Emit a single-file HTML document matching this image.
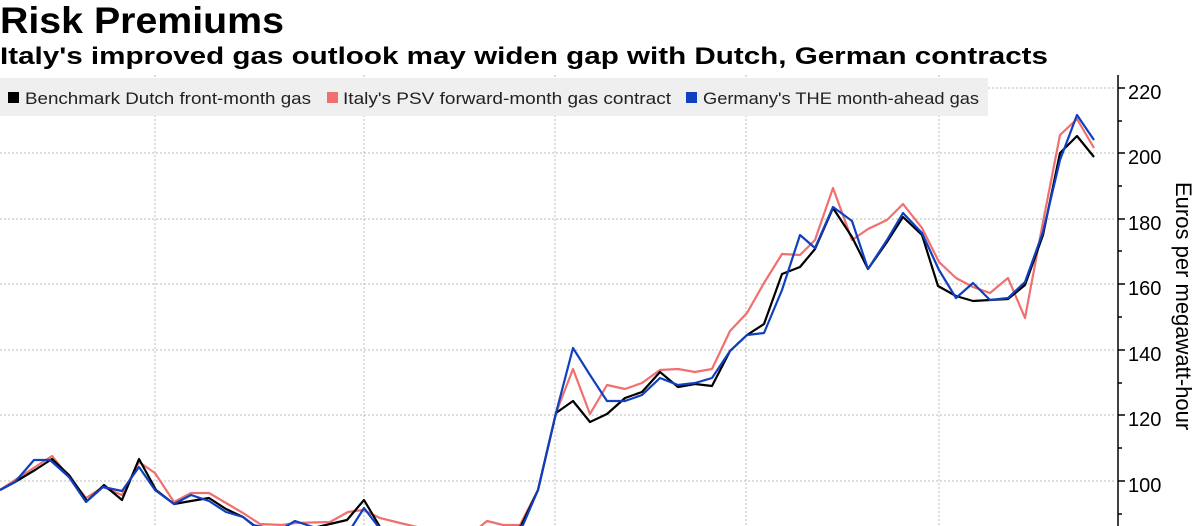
<!DOCTYPE html>
<html><head><meta charset="utf-8"><style>
html,body{margin:0;padding:0;background:#fff;width:1200px;height:526px;overflow:hidden}
svg{display:block}
text{font-family:"Liberation Sans",sans-serif}
</style></head><body>
<svg width="1200" height="526" viewBox="0 0 1200 526" xmlns="http://www.w3.org/2000/svg">
<text x="0" y="33" font-size="37" font-weight="bold" fill="#000" textLength="284" lengthAdjust="spacingAndGlyphs">Risk Premiums</text>
<text x="0" y="64" font-size="24" font-weight="bold" fill="#000" textLength="1048" lengthAdjust="spacingAndGlyphs">Italy's improved gas outlook may widen gap with Dutch, German contracts</text>
<g stroke="#bbb" stroke-width="1" stroke-dasharray="2,2">
<line x1="0" y1="88" x2="1115" y2="88"/><line x1="0" y1="153" x2="1115" y2="153"/><line x1="0" y1="219" x2="1115" y2="219"/><line x1="0" y1="284" x2="1115" y2="284"/><line x1="0" y1="350" x2="1115" y2="350"/><line x1="0" y1="415" x2="1115" y2="415"/><line x1="0" y1="481" x2="1115" y2="481"/>
<line x1="155" y1="75" x2="155" y2="526"/><line x1="364" y1="75" x2="364" y2="526"/><line x1="555" y1="75" x2="555" y2="526"/><line x1="746" y1="75" x2="746" y2="526"/><line x1="939" y1="75" x2="939" y2="526"/>
</g>
<rect x="0" y="78" width="988" height="38" fill="#efefef"/>
<rect x="8" y="92" width="11" height="11" fill="#000"/>
<text x="25" y="104" font-size="17" fill="#222" textLength="286" lengthAdjust="spacingAndGlyphs">Benchmark Dutch front-month gas</text>
<rect x="327" y="92" width="11" height="11" fill="#f07070"/>
<text x="343" y="104" font-size="17" fill="#222" textLength="328" lengthAdjust="spacingAndGlyphs">Italy's PSV forward-month gas contract</text>
<rect x="686" y="92" width="11" height="11" fill="#1040c0"/>
<text x="703" y="104" font-size="17" fill="#222" textLength="276" lengthAdjust="spacingAndGlyphs">Germany's THE month-ahead gas</text>
<g fill="none" stroke-width="2.2" stroke-linejoin="round">
<polyline stroke="#f07070" points="0,490 15,480 52,456 69,477 86,498 103,487 122,495 139,462 155,473 174,502 191,493 209,493 226,503 243,513 260,524 282,525 295,523 330,522 348,512 363,510 380,518 400,523 417,527 450,535 470,535 487,521 503,525 520,525 538,490 556,413 573,369 590,414 607,385 625,389 642,383 660,370 678,369 695,372 712,369 730,331 747,313 764,283 782,254 800,255 815,240 833,188 852,240 868,229 887,220 903,204 922,228 939,262 956,278 973,287 990,293 1008,278 1025,318 1043,222 1060,135 1077,119 1094,148"/>
<polyline stroke="#000" points="0,490 15,482 35,470 52,459 69,475 87,501 104,485 122,500 139,459 156,490 174,504 191,501 209,498 226,509 243,517 260,530 295,535 313,528 330,524 347,520 364,500 380,527 400,535 500,535 521,526 538,490 556,413 573,401 590,422 607,414 625,398 642,392 660,372 678,387 695,384 712,386 730,351 747,335 764,324 782,274 800,267 815,249 833,208 852,237 868,269 887,242 903,217 922,235 938,286 956,296 973,301 990,300 1008,299 1025,285 1043,235 1060,153 1077,136 1094,157"/>
<polyline stroke="#1040c0" points="0,490 15,482 34,460 50,460 69,477 86,502 103,487 122,491 139,467 155,490 174,504 191,495 209,501 226,512 243,517 253,525 280,530 295,521 313,527 330,535 350,530 364,508 377,525 390,535 510,535 523,525 538,490 556,413 573,348 590,375 607,401 625,401 642,395 660,378 678,385 695,383 712,378 730,351 747,335 764,333 782,290 800,235 815,248 833,207 852,221 868,269 887,240 903,213 922,233 939,270 956,298 973,283 990,300 1008,298 1025,282 1043,232 1060,160 1077,115 1094,140"/>
</g>
<line x1="1118" y1="75" x2="1118" y2="526" stroke="#000" stroke-width="1.5"/>
<g stroke="#000" stroke-width="1.5">
<line x1="1118" y1="88" x2="1125" y2="88"/><line x1="1118" y1="153" x2="1125" y2="153"/><line x1="1118" y1="219" x2="1125" y2="219"/><line x1="1118" y1="284" x2="1125" y2="284"/><line x1="1118" y1="350" x2="1125" y2="350"/><line x1="1118" y1="415" x2="1125" y2="415"/><line x1="1118" y1="481" x2="1125" y2="481"/>
<line x1="1118" y1="121" x2="1122" y2="121"/><line x1="1118" y1="186" x2="1122" y2="186"/><line x1="1118" y1="251" x2="1122" y2="251"/><line x1="1118" y1="317" x2="1122" y2="317"/><line x1="1118" y1="383" x2="1122" y2="383"/><line x1="1118" y1="448" x2="1122" y2="448"/><line x1="1118" y1="514" x2="1122" y2="514"/>
</g>
<g font-size="20" fill="#000">
<text x="1128" y="99">220</text><text x="1128" y="164">200</text><text x="1128" y="230">180</text><text x="1128" y="295">160</text><text x="1128" y="361">140</text><text x="1128" y="426">120</text><text x="1128" y="492">100</text>
</g>
<text transform="translate(1176,182) rotate(90)" font-size="22" fill="#000">Euros per megawatt-hour</text>
</svg>
</body></html>
